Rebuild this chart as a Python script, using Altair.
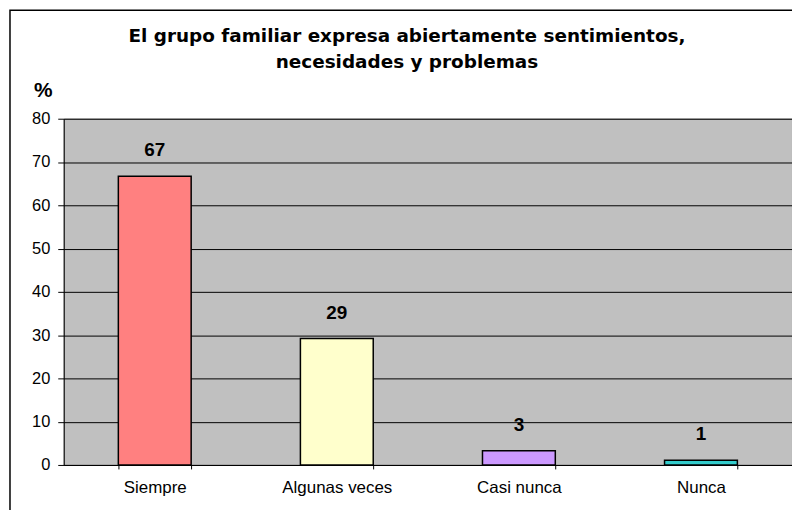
import altair as alt
import pandas as pd

categories = ["Siempre", "Algunas veces", "Casi nunca", "Nunca"]
values = [66.7, 29.2, 3.3, 1.1]
colors = ["#FF8080", "#FFFFCC", "#CC99FF", "#33CCCC"]
y_ticks = [0, 10, 20, 30, 40, 50, 60, 70, 80]
title_lines = ["El grupo familiar expresa abiertamente sentimientos,",
               "necesidades y problemas"]

df = pd.DataFrame({"cat": categories, "val": values})
FONT = "Liberation Sans"

x = alt.X("cat:N", sort=categories, title=None,
          scale=alt.Scale(paddingInner=0.6, paddingOuter=0.3),
          axis=alt.Axis(labelAngle=0, tickBand="extent", tickSize=4,
                        labelPadding=11, labelFontSize=17, labelFont=FONT,
                        labelColor="black", domainColor="black",
                        tickColor="black", grid=False))
y = alt.Y("val:Q", title="%",
          scale=alt.Scale(domain=[0, 80], nice=False),
          axis=alt.Axis(values=y_ticks, tickSize=6, labelPadding=8,
                        labelFontSize=16.5, labelFont=FONT, labelColor="black",
                        domainColor="black", tickColor="black",
                        grid=True, gridColor="#000000", gridOpacity=1,
                        gridWidth=1,
                        titleAngle=0, titleX=-21, titleY=-28,
                        titleAlign="center", titleBaseline="middle",
                        titleFontSize=21, titleFont=FONT,
                        titleFontWeight="bold", titleColor="black"))

bars = alt.Chart(df).mark_bar(stroke="black", strokeWidth=1.5).encode(
    x=x, y=y,
    color=alt.Color("cat:N", scale=alt.Scale(domain=categories, range=colors),
                    legend=None),
)

labels = alt.Chart(df).mark_text(dy=-26, baseline="middle", fontSize=19,
                                 fontWeight="bold", font=FONT,
                                 color="black").encode(
    x=alt.X("cat:N", sort=categories),
    y="val:Q",
    text=alt.Text("val:Q", format=".0f"),
)

one = pd.DataFrame({"a": [0]})

border = alt.Chart(one).mark_rect(
    fill="transparent", stroke="black", strokeWidth=1.5).encode(
    x=alt.value(-54), x2=alt.value(760),
    y=alt.value(-109), y2=alt.value(420),
)

title = alt.Chart(one).mark_text(
    text=title_lines, align="center", baseline="middle", fontSize=18.5,
    font="DejaVu Sans", fontWeight="bold", color="black",
    lineHeight=26).encode(
    x=alt.value(345), y=alt.value(-83),
)

chart = alt.layer(border, bars, labels, title).properties(
    width=732, height=348,
    autosize=alt.AutoSizeParams(type="none"),
    padding={"left": 56, "top": 110, "right": 0, "bottom": 44},
).configure_view(
    fill="#C0C0C0", stroke="#808080", strokeWidth=1,
)

chart.save("out.html", embed_options={"renderer": "svg", "actions": False})
